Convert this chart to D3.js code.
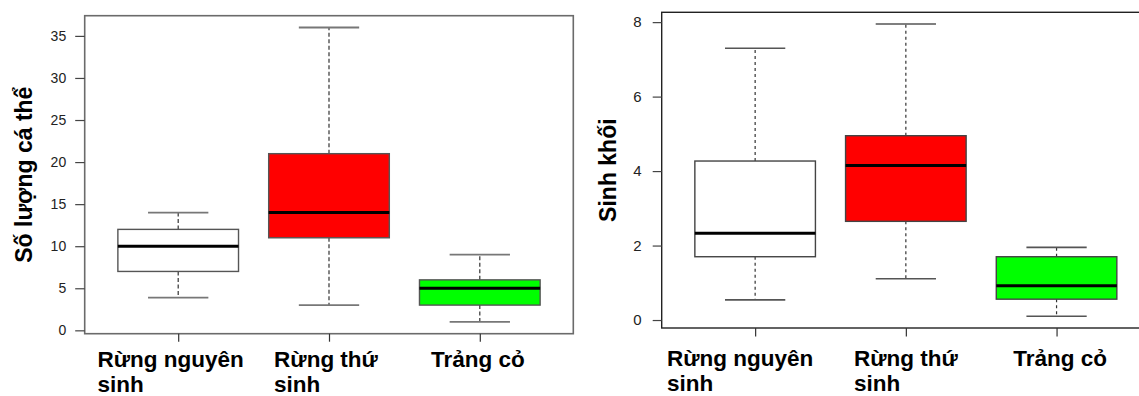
<!DOCTYPE html>
<html>
<head>
<meta charset="utf-8">
<script src="https://cdn.jsdelivr.net/npm/d3@7/dist/d3.min.js"></script>
<style>
  html, body { margin: 0; padding: 0; background: #fff; }
  svg { display: block; }
  text { font-family: "Liberation Sans", Arial, sans-serif; }
</style>
</head>
<body>
<svg id="chart" width="1139" height="396"></svg>
<script>
// ---------------- DATA ----------------
const categories = [["Rừng nguyên", "sinh"], ["Rừng thứ", "sinh"], ["Trảng cỏ"]];
const boxColors = ["#FFFFFF", "#FF0000", "#00FF00"];

// Left panel: Số lượng cá thể  [lowWhisker, Q1, median, Q3, highWhisker]
const countLow    = [3.9, 3, 1];
const countQ1     = [7, 11, 3];
const countMedian = [10, 14, 5];
const countQ3     = [12, 21, 6];
const countHigh   = [14, 36, 9];
const countTicks  = [0, 5, 10, 15, 20, 25, 30, 35];

// Right panel: Sinh khối
const massLow    = [0.54, 1.11, 0.10];
const massQ1     = [1.70, 2.65, 0.56];
const massMedian = [2.33, 4.15, 0.92];
const massQ3     = [4.27, 4.95, 1.70];
const massHigh   = [7.30, 7.95, 1.95];
const massTicks  = [0, 2, 4, 6, 8];

// ---------------- LAYOUT / STYLE ----------------
const panels = [
  {
    title: "Số lượng cá thể",
    low: countLow, q1: countQ1, med: countMedian, q3: countQ3, high: countHigh, ticks: countTicks,
    left: 84.7, right: 573.3, top: 15.7, bottom: 333.7,
    frame: "#6b6b6b", frameW: 1.6,
    tickLen: 9.5, tickFont: 14, labelGap: 9,
    titleX: 32, titleFont: 23,
    xTickLen: 8, xLabelFont: 22.5, xLabelY: 367, xLabelLine: 25,
    xLabelDx: [-7.5, -3, -2],
    dash: "4,2.5", capColor: "#777", capW: 1.8, boxStroke: "#555"
  },
  {
    title: "Sinh khối",
    low: massLow, q1: massQ1, med: massMedian, q3: massQ3, high: massHigh, ticks: massTicks,
    left: 661.7, right: 1150, top: 12.3, bottom: 328,
    frame: "#222", frameW: 1.4,
    tickLen: 9, tickFont: 15, labelGap: 11,
    titleX: 616, titleFont: 23,
    xTickLen: 8.5, xLabelFont: 22.5, xLabelY: 366, xLabelLine: 25,
    xLabelDx: [-15, 0, 3.5],
    dash: "3,3", capColor: "#555", capW: 1.6, boxStroke: "#444"
  }
];

const svg = d3.select("#chart");

panels.forEach(p => {
  const g = svg.append("g");
  const n = categories.length;
  // R-style limits: xlim [0.5, n+0.5] extended 4%
  const xr = [0.5, n + 0.5];
  const xe = (xr[1] - xr[0]) * 0.04;
  const x = d3.scaleLinear().domain([xr[0] - xe, xr[1] + xe]).range([p.left, p.right]);
  const ymin = d3.min(p.low), ymax = d3.max(p.high);
  const ye = (ymax - ymin) * 0.04;
  const y = d3.scaleLinear().domain([ymin - ye, ymax + ye]).range([p.bottom, p.top]);

  const idx = d3.range(n);
  const pos = idx.map(i => i + 1);
  const boxW = 0.8, capW = 0.4;

  // whiskers (dashed)
  g.selectAll(".wu").data(idx).join("line")
    .attr("x1", i => x(pos[i])).attr("x2", i => x(pos[i]))
    .attr("y1", i => y(p.q3[i])).attr("y2", i => y(p.high[i]))
    .attr("stroke", "#333").attr("stroke-width", 1.2).attr("stroke-dasharray", p.dash);
  g.selectAll(".wl").data(idx).join("line")
    .attr("x1", i => x(pos[i])).attr("x2", i => x(pos[i]))
    .attr("y1", i => y(p.q1[i])).attr("y2", i => y(p.low[i]))
    .attr("stroke", "#333").attr("stroke-width", 1.2).attr("stroke-dasharray", p.dash);

  // caps
  ["high", "low"].forEach(k => {
    g.selectAll(".cap" + k).data(idx).join("line")
      .attr("x1", i => x(pos[i] - capW / 2)).attr("x2", i => x(pos[i] + capW / 2))
      .attr("y1", i => y(p[k][i])).attr("y2", i => y(p[k][i]))
      .attr("stroke", p.capColor).attr("stroke-width", p.capW);
  });

  // boxes
  g.selectAll(".box").data(idx).join("rect")
    .attr("x", i => x(pos[i] - boxW / 2))
    .attr("width", i => x(pos[i] + boxW / 2) - x(pos[i] - boxW / 2))
    .attr("y", i => y(p.q3[i]))
    .attr("height", i => y(p.q1[i]) - y(p.q3[i]))
    .attr("fill", i => boxColors[i])
    .attr("stroke", p.boxStroke).attr("stroke-width", 1.4);

  // medians
  g.selectAll(".med").data(idx).join("line")
    .attr("x1", i => x(pos[i] - boxW / 2)).attr("x2", i => x(pos[i] + boxW / 2))
    .attr("y1", i => y(p.med[i])).attr("y2", i => y(p.med[i]))
    .attr("stroke", "#000").attr("stroke-width", 3);

  // frame
  g.append("rect")
    .attr("x", p.left).attr("y", p.top)
    .attr("width", p.right - p.left).attr("height", p.bottom - p.top)
    .attr("fill", "none").attr("stroke", p.frame).attr("stroke-width", p.frameW);

  // y axis
  const yAxis = d3.axisLeft(y).tickValues(p.ticks).tickSize(p.tickLen).tickPadding(p.labelGap);
  const ya = g.append("g").attr("transform", `translate(${p.left},0)`).call(yAxis);
  ya.select(".domain").remove();
  ya.selectAll(".tick line").attr("stroke", "#444").attr("stroke-width", 1.2);
  ya.selectAll(".tick text").attr("font-size", p.tickFont).attr("fill", "#222")
    .attr("font-family", "'Liberation Sans', Arial, sans-serif");

  // x axis ticks
  const xAxis = d3.axisBottom(x).tickValues(pos).tickSize(p.xTickLen).tickFormat("");
  const xa = g.append("g").attr("transform", `translate(0,${p.bottom})`).call(xAxis);
  xa.select(".domain").remove();
  xa.selectAll(".tick line").attr("stroke", "#333").attr("stroke-width", 1.2);

  // x labels (multi-line, left aligned lines)
  idx.forEach(i => {
    const t = g.append("text")
      .attr("font-size", p.xLabelFont).attr("font-weight", "bold").attr("fill", "#000");
    categories[i].forEach((line, j) => {
      t.append("tspan").attr("y", p.xLabelY + j * p.xLabelLine).text(line);
    });
    const w = t.select("tspan").node().getComputedTextLength();
    const sx = x(pos[i]) - w / 2 + p.xLabelDx[i];
    t.selectAll("tspan").attr("x", sx);
  });

  // y title
  const cy = (p.top + p.bottom) / 2;
  g.append("text")
    .attr("transform", `translate(${p.titleX},${cy}) rotate(-90)`)
    .attr("text-anchor", "middle")
    .attr("font-size", p.titleFont).attr("font-weight", "bold").attr("fill", "#000")
    .text(p.title);
});
</script>
</body>
</html>
